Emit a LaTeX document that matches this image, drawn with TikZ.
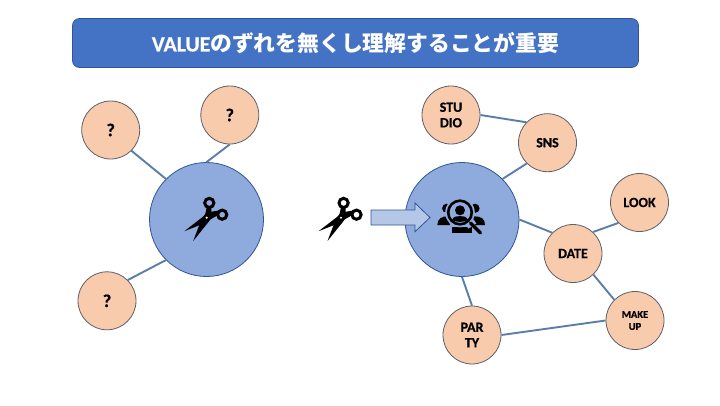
\documentclass[tikz,border=0pt]{standalone}
\usepackage{fontspec}
\setmainfont{Carlito}[BoldFeatures={FakeBold=0.6}]
\newfontfamily\cjk{Noto Sans CJK JP}
\tikzset{
  x=1pt,y=-1pt,
  hub/.style={circle,draw=hubline,line width=0.8pt,fill=hubfill,minimum size=114pt,inner sep=0pt},
  topic/.style={circle,draw=topicline,line width=0.8pt,fill=topicfill,minimum size=58pt,inner sep=0pt,
    font=\fontsize{14}{15.5}\selectfont\bfseries,align=center,text=black},
  smalltopic/.style={topic,font=\fontsize{10.5}{12}\selectfont\bfseries},
  unknown/.style={topic,font=\fontsize{18}{20}\selectfont\bfseries},
  link/.style={draw=linkblue,line width=1.9pt},
  titlebar/.style={rounded corners=7pt,draw=hubline,line width=0.7pt,fill=titleblue,text=white,
    minimum width=566pt,minimum height=49pt,inner sep=0pt},
  pushed/.style={draw=hubline,line width=0.8pt,fill=arrowfill},
  pics/shears/.style={code={
    % two rings, two crossed blades, white pivot
    \draw[black,line width=3pt] (2.6,-14.8) circle[radius=4.6];
    \draw[black,line width=3pt] (15.5,-3) circle[radius=4.6];
    \fill[black] (-22.4,13.5) -- (-3,-1.5) -- (-0.5,-5) -- (10.5,-7) -- (12,-3) -- (4,1.5) -- (-1,5) -- cycle;
    \fill[black] (-13.5,23.3) -- (-5,1) -- (-1.5,-3) -- (0,-10.5) -- (4.5,-10.5) -- (5,-0.5) -- (2,4) -- cycle;
    \fill[white] (0,0) circle[radius=1.2];
  }},
  pics/audience/.style={code={
    % side figures behind a lens with a central figure
    \fill[black] (-13.3,-4.2) circle[radius=4.6];
    \fill[black] (15,-4.2) circle[radius=4.6];
    \fill[black] (-22.7,12.5) .. controls (-22.5,6) and (-18,3.5) .. (-12,4) -- (-10,12.5) -- cycle;
    \fill[black] (25,12.5) .. controls (25,6) and (21,3.5) .. (13,4) -- (11,12.5) -- cycle;
    \fill[black] (-8.3,14.8) -- (11.7,14.8) -- (11.7,20.8) -- (-8.3,20.8) -- cycle;
    \fill[hubfill] (0,0) circle[radius=14.8];
    \draw[black,line width=2.6pt] (0,0) circle[radius=11.8];
    \fill[black] (0,-2.2) circle[radius=5];
    \fill[black] (-8,7.5) .. controls (-6.5,3.8) and (-3,3.4) .. (0,3.6) .. controls (3,3.4) and (6.5,3.8) .. (8,7.5) .. controls (3,10) and (-3,10) .. (-8,7.5) -- cycle;
    \draw[hubfill,line width=5pt] (7,14) -- (15,9);
    \draw[black,line width=3.2pt,line cap=round] (10.5,10.5) -- (20.5,20.5);
  }}
}
\definecolor{hubline}{HTML}{2F5597}
\definecolor{hubfill}{HTML}{8FAADC}
\definecolor{topicline}{HTML}{5F5F68}
\definecolor{topicfill}{HTML}{F8CBAD}
\definecolor{linkblue}{HTML}{5B7EA8}
\definecolor{titleblue}{HTML}{4472C4}
\definecolor{arrowfill}{HTML}{B4C7E7}
\begin{document}
\begin{tikzpicture}
\useasboundingbox (0,0) rectangle (720,405);
\fill[white] (0,0) rectangle (720,405);

\node[titlebar] (title) at (355.5,43) {\fontsize{21.8}{24}\selectfont\bfseries VALUE{\cjk\bfseries のずれを無くし理解することが重要}};

% left cluster
\node[hub] (hubL) at (206.5,219.5) {};
\node[unknown] (q1) at (110.7,130) {?};
\node[unknown] (q2) at (229.8,115) {?};
\node[unknown] (q3) at (107,300.8) {?};
\draw[link] (hubL.135) -- (q1.-45);
\draw[link] (hubL.90) -- (q2.-90);
\draw[link] (hubL.225) -- (q3.45);
\pic at (206.7,217.7) {shears};

% right cluster
\node[hub] (hubR) at (462,219.5) {};
\node[topic] (studio) at (451,115) {STU\\DIO};
\node[topic] (sns) at (547.5,142.7) {SNS};
\node[topic] (look) at (639.5,202.5) {LOOK};
\node[topic] (date) at (573,253.5) {DATE};
\node[smalltopic] (makeup) at (635,320.5) {MAKE\\UP};
\node[topic] (party) at (472,335) {PAR\\TY};
\draw[link] (hubR.45) -- (sns.225);
\draw[link] (studio.0) -- (sns.136);
\draw[link] (hubR.0) -- (date.135);
\draw[link] (date.47) -- (look.224);
\draw[link] (date.-46) -- (makeup.135);
\draw[link] (hubR.-90) -- (party.90);
\draw[link] (party.0) -- (makeup.180);
\pic at (460,212.5) {audience};

% cut applied to the right cluster
\pic at (341,217.7) {shears};
\path[pushed] (371,210) -- (415,210) -- (415,203) -- (430,217.5) -- (415,231.7) -- (415,225) -- (371,225) -- cycle;
\end{tikzpicture}
\end{document}
